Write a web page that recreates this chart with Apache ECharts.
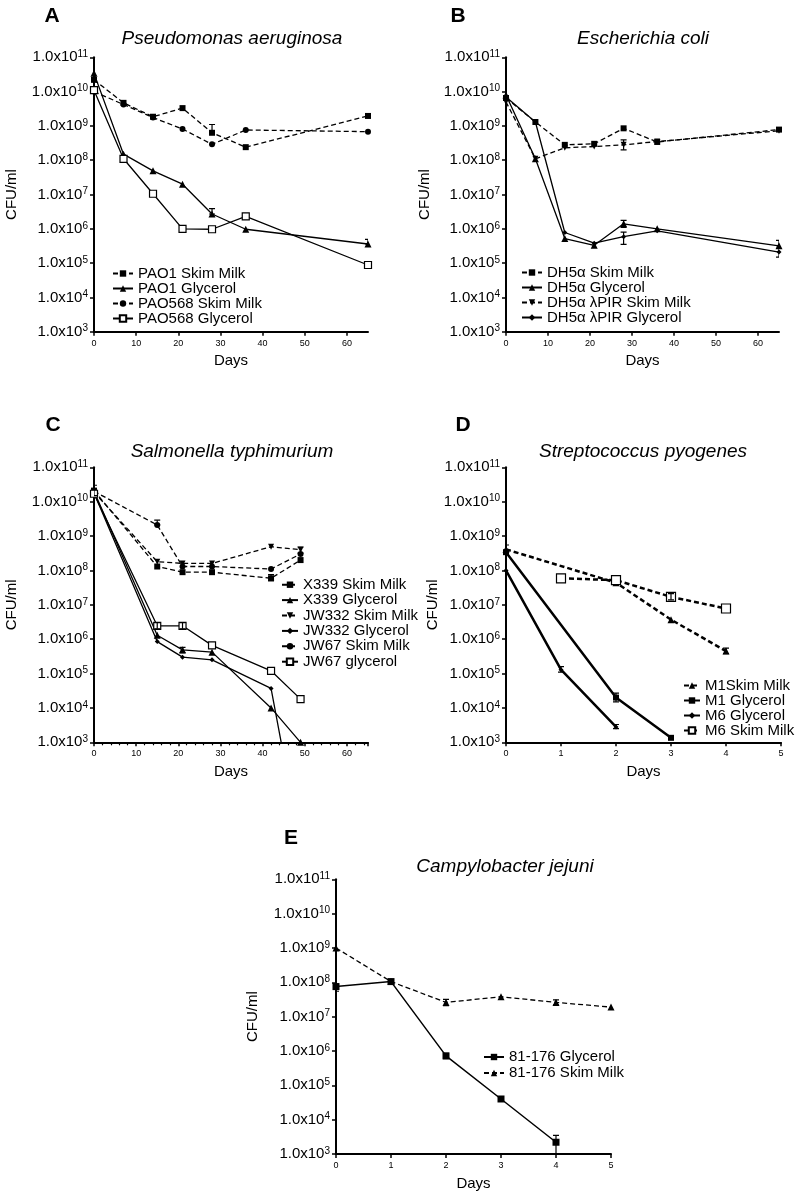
<!DOCTYPE html>
<html><head><meta charset="utf-8">
<script src="https://cdn.jsdelivr.net/npm/echarts@6/dist/echarts.min.js"></script>
<style>html,body{margin:0;padding:0;background:#fff}#c{width:800px;height:1196px}</style>
</head><body><div id="c"></div><script>
const FONT = 'Liberation Sans, Arial, Helvetica, sans-serif';

// ---- Panel A: Pseudomonas aeruginosa ----
const daysA = [0, 7, 14, 21, 28, 36, 65];
const pao1Skim   = [2.2e10, 4.7e9, 1.85e9, 3.3e9, 6.3e8, 2.4e8, 1.95e9];
const pao1Gly    = [3.4e10, 1.5e8, 4.9e7, 2.0e7, 2.7e6, 9.7e5, 3.6e5];
const pao568Skim = [1.0e10, 4.2e9, 1.75e9, 8.1e8, 2.9e8, 7.6e8, 6.8e8];
const pao568Gly  = [1.1e10, 1.1e8, 1.05e7, 1.0e6, 9.7e5, 2.3e6, 8.8e4];
const errA = [[28, 6.3e8, 1.1e9], [28, 2.7e6, 3.9e6], [65, 3.6e5, 4.9e5]];

// ---- Panel B: Escherichia coli ----
const daysB = [0, 7, 14, 21, 28, 36, 65];
const dh5Skim    = [6.5e9, 1.3e9, 2.8e8, 3.0e8, 8.5e8, 3.4e8, 7.8e8];
const dh5Gly     = [8.0e9, 1.1e8, 5.2e5, 3.3e5, 1.4e6, 1.0e6, 3.2e5];
const dh5PirSkim = [5.0e9, 1.1e8, 2.3e8, 2.5e8, 2.8e8, 3.5e8, 7.2e8];
const dh5PirGly  = [7.0e9, 1.3e9, 7.8e5, 3.8e5, 5.9e5, 8.7e5, 2.1e5];
const errB = [[28, 2.0e8, 3.9e8], [28, 1.1e6, 1.75e6], [28, 3.5e5, 8.0e5], [65, 3.2e5, 4.6e5], [65, 1.5e5, 2.7e5]];

// ---- Panel C: Salmonella typhimurium ----
const daysC = [0, 15, 21, 28, 42, 49];
const x339Skim  = [2.1e10, 1.3e8, 8.9e7, 8.9e7, 5.9e7, 2.0e8];
const x339Gly   = [2.0e10, 1.3e6, 4.9e5, 4.2e5, 1.0e4, 1.0e3];
const jw332Skim = [1.9e10, 1.8e8, 1.6e8, 1.6e8, 4.9e8, 4.0e8];
const jw332Gly  = [1.8e10, 8.5e5, 3.0e5, 2.5e5, 3.7e4, 1];
const jw67Skim  = [2.0e10, 2.1e9, 1.3e8, 1.3e8, 1.1e8, 3.0e8];
const jw67Gly   = [1.7e10, 2.45e6, 2.45e6, 6.6e5, 1.2e5, 1.8e4];
const errC = [[0, 1.5e10, 3.0e10], [15, 2.1e9, 2.9e9], [42, 5.0e7, 7.5e7], [49, 3.2e8, 4.8e8], [21, 4.0e5, 5.8e5], [21, 2.0e6, 3.0e6], [15, 2.0e6, 3.0e6]];

// ---- Panel D: Streptococcus pyogenes ----
const daysD = [0, 1, 2, 3, 4];
const m1Skim = [4.1e8, null, 4.4e7, 3.7e6, 4.5e5];
const m1Gly  = [3.4e8, null, 2.0e4, 1.35e3, null];
const m6Gly  = [1.0e8, 1.3e5, 2.8e3, null, null];
const m6Skim = [null, 5.9e7, 5.2e7, 1.7e7, 7.8e6];
const errD = [[0, 3.5e8, 5.5e8], [4, 3.8e5, 5.5e5], [2, 1.5e4, 2.7e4], [1, 1.1e5, 1.6e5], [2, 2.5e3, 3.3e3], [3, 1.4e7, 2.1e7]];

// ---- Panel E: Campylobacter jejuni ----
const daysE = [0, 1, 2, 3, 4, 5];
const cjGly  = [7.5e7, 1.05e8, 7.2e5, 4.0e4, 2.2e3, null];
const cjSkim = [1.0e9, 1.05e8, 2.6e7, 3.8e7, 2.6e7, 1.9e7];
const errE = [[0, 5.5e7, 9.0e7], [2, 6.0e5, 8.5e5], [4, 5.0e2, 3.5e3], [2, 2.1e7, 3.2e7], [4, 2.2e7, 3.1e7]];

function pairs(days, vals) {
  return days.map((d, i) => [d, vals[i]]).filter(p => p[1] != null);
}

const grids = [
  {left: 94, top: 57.3, width: 274, height: 274.4},
  {left: 506, top: 57.3, width: 273, height: 274.4},
  {left: 94, top: 467.3, width: 274, height: 275},
  {left: 506, top: 467.3, width: 275, height: 275},
  {left: 336, top: 879.3, width: 275, height: 274.7}
];
const yNameGap = [74.5, 73.5, 74.5, 65.5, 75.5];

function xAxis(k, max, interval, minor) {
  return {
    type: 'value', gridIndex: k, min: 0, max: max, interval: interval,
    axisLine: {lineStyle: {color: '#000', width: 2}},
    axisTick: {length: 4, lineStyle: {color: '#000', width: 1.5}},
    minorTick: {show: minor, splitNumber: 5, length: 3, lineStyle: {color: '#000', width: 1.2}},
    splitLine: {show: false},
    axisLabel: {fontSize: 9, color: '#000', margin: 7, fontFamily: FONT, showMaxLabel: max === 5},
    name: 'Days', nameLocation: 'middle', nameGap: 22,
    nameTextStyle: {fontSize: 15, color: '#000', fontFamily: FONT}
  };
}
function yAxis(k) {
  return {
    type: 'log', logBase: 10, gridIndex: k, min: 1e3, max: 1e11, splitNumber: 8,
    axisLine: {lineStyle: {color: '#000', width: 2}},
    axisTick: {length: 4, lineStyle: {color: '#000', width: 1.5}},
    splitLine: {show: false},
    axisLabel: {
      margin: 6, color: '#000', fontFamily: FONT,
      formatter: v => '{b|1.0x10}{s|' + Math.round(Math.log10(v)) + '}',
      rich: {
        b: {fontSize: 15, lineHeight: 16, color: '#000', fontFamily: FONT},
        s: {fontSize: 10, lineHeight: 10, verticalAlign: 'top', color: '#000', fontFamily: FONT}
      }
    },
    name: 'CFU/ml', nameLocation: 'middle', nameGap: yNameGap[k],
    nameTextStyle: {fontSize: 15, color: '#000', fontFamily: FONT}
  };
}

const INV_TRI = 'path://M0,0 L10,0 L5,9 Z';
const DASH = [5, 3];
function line(k, name, data, symbol, size, dashed, opts) {
  opts = opts || {};
  return {
    type: 'line', name: name, xAxisIndex: k, yAxisIndex: k, data: data,
    symbol: symbol, symbolSize: size, showAllSymbol: true,
    lineStyle: {color: '#000', width: opts.width || 1.3, type: dashed ? DASH : 'solid'},
    itemStyle: opts.open ? {color: '#fff', borderColor: '#000', borderWidth: 1.2} : {color: '#000'},
    color: '#000', animation: false, z: 2
  };
}
function errRender(params, api) {
  const x = api.value(0), lo = api.value(1), hi = api.value(2);
  const a = api.coord([x, lo]), b = api.coord([x, hi]);
  const w = 3;
  const st = {stroke: '#000', lineWidth: 1.2};
  return {type: 'group', children: [
    {type: 'line', shape: {x1: a[0], y1: a[1], x2: b[0], y2: b[1]}, style: st},
    {type: 'line', shape: {x1: a[0] - w, y1: a[1], x2: a[0] + w, y2: a[1]}, style: st},
    {type: 'line', shape: {x1: b[0] - w, y1: b[1], x2: b[0] + w, y2: b[1]}, style: st}
  ]};
}
function errSeries(k, data) {
  return {type: 'custom', xAxisIndex: k, yAxisIndex: k, data: data, renderItem: errRender,
    encode: {x: 0, y: [1, 2]}, silent: true, z: 3, animation: false, clip: true};
}
function legend(names, left, top, lh, iw) {
  return {
    data: names, orient: 'vertical', left: left, top: top, padding: 0,
    itemWidth: iw, itemHeight: 8, itemGap: 0, selectedMode: false,
    textStyle: {fontSize: 15, lineHeight: lh, color: '#000', fontFamily: FONT, padding: [0, 0, 0, 0]}
  };
}
function titleAt(text, x, top, italic) {
  return {
    text: text, left: x, top: top, textAlign: 'center', padding: 0,
    textStyle: italic
      ? {fontSize: 19, fontStyle: 'italic', fontWeight: 'normal', color: '#000', fontFamily: FONT}
      : {fontSize: 21, fontWeight: 'bold', color: '#000', fontFamily: FONT}
  };
}

const option = {
  backgroundColor: '#fff',
  animation: false,
  title: [
    titleAt('A', 52, 6, false), titleAt('Pseudomonas aeruginosa', 232, 29, true),
    titleAt('B', 458, 6, false), titleAt('Escherichia coli', 643, 29, true),
    titleAt('C', 53, 415, false), titleAt('Salmonella typhimurium', 232, 442, true),
    titleAt('D', 463, 415, false), titleAt('Streptococcus pyogenes', 643, 442, true),
    titleAt('E', 291, 828, false), titleAt('Campylobacter jejuni', 505, 857, true)
  ],
  grid: grids,
  xAxis: [xAxis(0, 65, 10, false), xAxis(1, 65, 10, false), xAxis(2, 65, 10, true), xAxis(3, 5, 1, false), xAxis(4, 5, 1, false)],
  yAxis: [yAxis(0), yAxis(1), yAxis(2), yAxis(3), yAxis(4)],
  legend: [
    legend(['PAO1 Skim Milk', 'PAO1 Glycerol', 'PAO568 Skim Milk', 'PAO568 Glycerol'], 112, 266, 15, 20),
    legend(['DH5α Skim Milk', 'DH5α Glycerol', 'DH5α λPIR Skim Milk', 'DH5α λPIR Glycerol'], 521, 265, 14, 20),
    legend(['X339 Skim Milk', 'X339 Glycerol', 'JW332 Skim Milk', 'JW332 Glycerol', 'JW67 Skim Milk', 'JW67 glycerol'], 281, 577, 15.4, 16),
    legend(['M1Skim Milk', 'M1 Glycerol', 'M6 Glycerol', 'M6 Skim Milk'], 683, 678, 14, 16),
    legend(['81-176 Glycerol', '81-176 Skim Milk'], 483, 1049, 16, 20)
  ],
  series: [
    line(0, 'PAO1 Skim Milk', pairs(daysA, pao1Skim), 'rect', 6, true),
    line(0, 'PAO1 Glycerol', pairs(daysA, pao1Gly), 'triangle', 7, false),
    line(0, 'PAO568 Skim Milk', pairs(daysA, pao568Skim), 'circle', 6, true),
    line(0, 'PAO568 Glycerol', pairs(daysA, pao568Gly), 'rect', 7, false, {open: true}),
    errSeries(0, errA),

    line(1, 'DH5α Skim Milk', pairs(daysB, dh5Skim), 'rect', 6, true),
    line(1, 'DH5α Glycerol', pairs(daysB, dh5Gly), 'triangle', 7, false),
    line(1, 'DH5α λPIR Skim Milk', pairs(daysB, dh5PirSkim), INV_TRI, 6, true),
    line(1, 'DH5α λPIR Glycerol', pairs(daysB, dh5PirGly), 'diamond', 5, false),
    errSeries(1, errB),

    line(2, 'X339 Skim Milk', pairs(daysC, x339Skim), 'rect', 6, true),
    line(2, 'X339 Glycerol', pairs(daysC, x339Gly), 'triangle', 7, false),
    line(2, 'JW332 Skim Milk', pairs(daysC, jw332Skim), INV_TRI, 6, true),
    line(2, 'JW332 Glycerol', pairs(daysC, jw332Gly), 'diamond', 5, false),
    line(2, 'JW67 Skim Milk', pairs(daysC, jw67Skim), 'circle', 6, true),
    line(2, 'JW67 glycerol', pairs(daysC, jw67Gly), 'rect', 7, false, {open: true}),
    errSeries(2, errC),

    line(3, 'M1Skim Milk', pairs(daysD, m1Skim), 'triangle', 7, true, {width: 2.5}),
    line(3, 'M1 Glycerol', pairs(daysD, m1Gly), 'rect', 6, false, {width: 2.5}),
    line(3, 'M6 Glycerol', pairs(daysD, m6Gly), 'diamond', 5, false, {width: 2.5}),
    line(3, 'M6 Skim Milk', pairs(daysD, m6Skim), 'rect', 9, true, {width: 2.5, open: true}),
    errSeries(3, errD),

    line(4, '81-176 Glycerol', pairs(daysE, cjGly), 'rect', 7, false, {width: 1.5}),
    line(4, '81-176 Skim Milk', pairs(daysE, cjSkim), 'triangle', 7, true, {width: 1.3}),
    errSeries(4, errE)
  ]
};

const chart = echarts.init(document.getElementById('c'), null, {renderer: 'canvas'});
chart.setOption(option);
</script></body></html>
